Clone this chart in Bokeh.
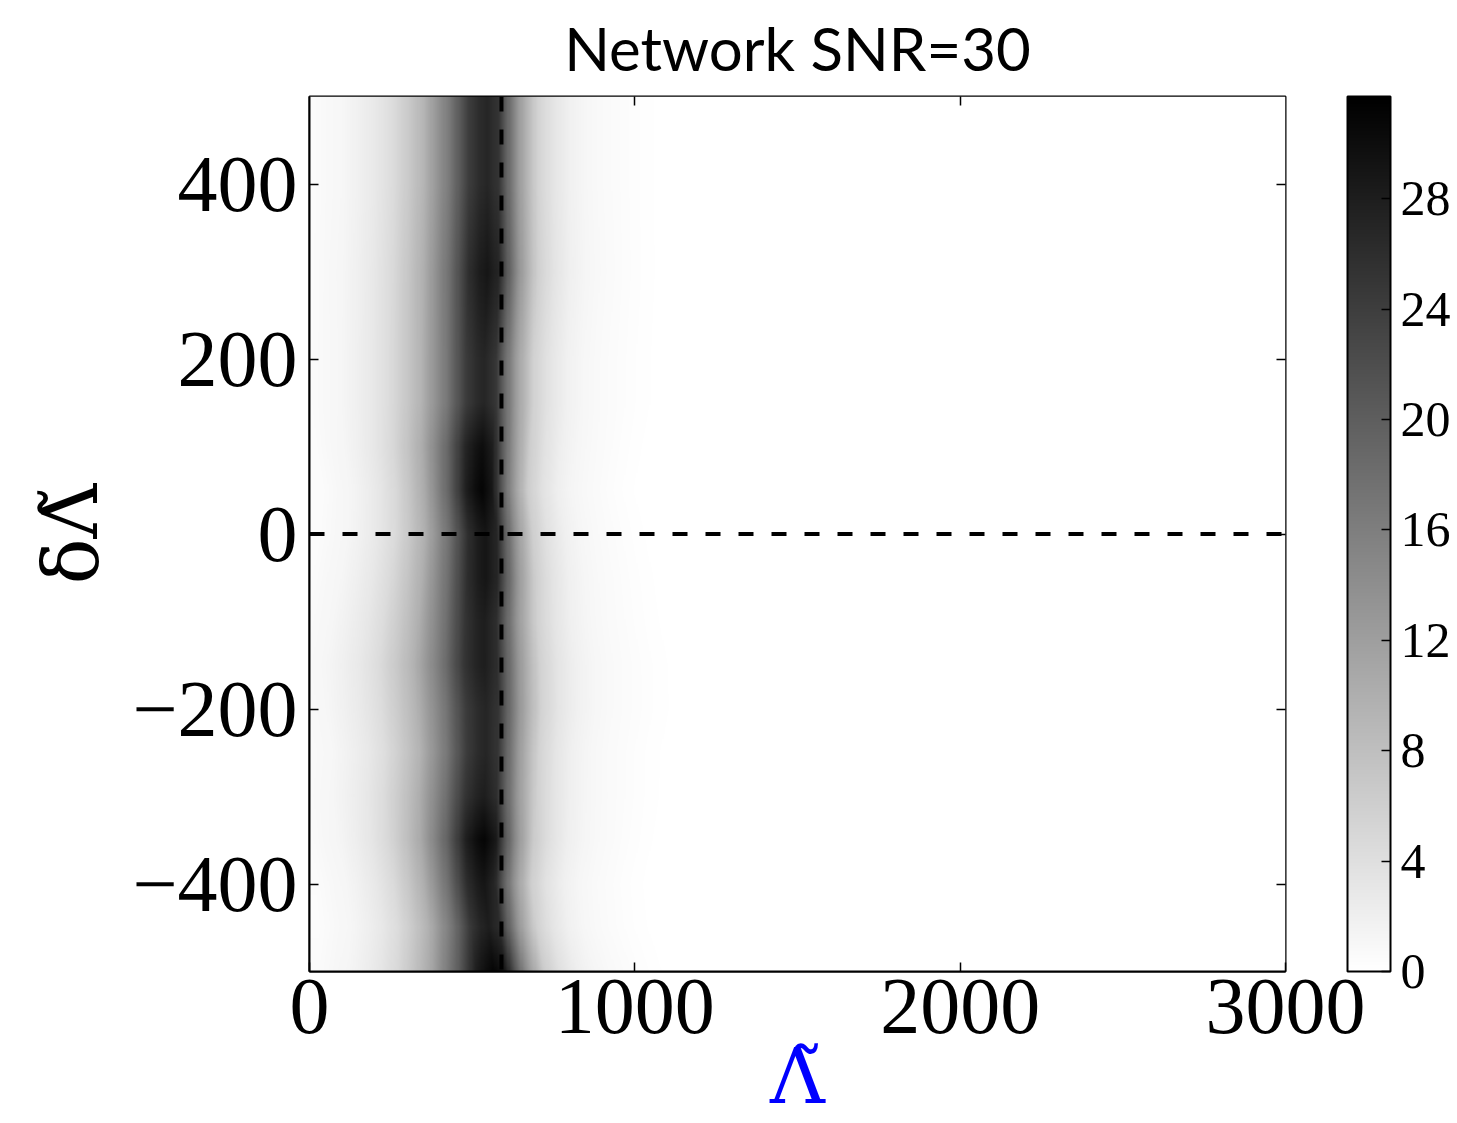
import numpy as np
from bokeh.plotting import figure
from bokeh.models import (LinearColorMapper, ColorBar, Span, LinearAxis,
                          FixedTicker, Range1d)
from bokeh.palettes import Greys256
from bokeh.embed import file_html
from bokeh.resources import INLINE

# ---------------- data ----------------
title_text = "Network SNR=30"
x_ticks = [0, 1000, 2000, 3000]
y_ticks = [-400, -200, 0, 200, 400]
cbar_ticks = [0, 4, 8, 12, 16, 20, 24, 28]
cbar_low = 0.0
cbar_high = 31.7
lambda_true = 590      # vertical dashed line
delta_true = 0         # horizontal dashed line

# density profile across Lambda-tilde (ridge centred at 540)
prof_x = [0, 60, 100, 150, 200, 250, 300, 350, 400, 430, 460, 490, 520,
          545, 580, 610, 640, 660, 700, 750, 800, 850, 900, 1000, 1100, 3000]
prof_v = [0.5, 1.0, 1.2, 2.0, 3.0, 4.5, 7.0, 10.0, 15.0, 18.0, 22.0, 26.0,
          28.0, 29.0, 27.0, 20.0, 14.0, 11.0, 6.0, 3.5, 2.0, 1.2, 0.8, 0.3,
          0.0, 0.0]
prof_ref_center = 540
prof_ref_peak = 29.0

# ridge behaviour along delta-Lambda-tilde
row_y = [-500, -450, -400, -350, -300, -250, -200, -150, -100, -50, 0,
         50, 100, 150, 200, 250, 300, 350, 400, 450, 500]
row_peak = [31, 28, 29, 31, 28, 27, 27, 28, 28, 29, 29,
            31, 30, 27, 27, 28, 29, 28, 27, 27, 27]
row_center = [560, 545, 530, 530, 530, 535, 535, 530, 530, 535, 535,
              525, 525, 530, 530, 535, 540, 540, 540, 540, 540]
row_width = [1.0, 0.95, 0.95, 1.0, 1.05, 1.05, 1.1, 1.1, 1.05, 1.0, 0.95,
             0.9, 0.95, 1.0, 1.0, 1.0, 1.0, 1.0, 1.0, 1.0, 1.0]

# ---------------- build the density image ----------------
nx, ny = 900, 500
gx = np.linspace(0, 3000, nx)
gy = np.linspace(-500, 500, ny)
peaks = np.interp(gy, row_y, row_peak)
centers = np.interp(gy, row_y, row_center)
widths = np.interp(gy, row_y, row_width)
img = np.zeros((ny, nx))
for i in range(ny):
    shifted = prof_ref_center + (gx - centers[i]) / widths[i]
    img[i] = np.interp(shifted, prof_x, prof_v) * peaks[i] / prof_ref_peak

palette = list(reversed(Greys256))
mapper = LinearColorMapper(palette=palette, low=cbar_low, high=cbar_high)

# ---------------- figure ----------------
serif = "Liberation Serif"
label_font = "DejaVu Serif"
p = figure(frame_width=976, frame_height=875,
           x_range=Range1d(0, 3000), y_range=Range1d(-500, 500),
           output_backend="svg", toolbar_location=None,
           min_border_left=309, min_border_top=0, min_border_bottom=5,
           min_border_right=172)
p.background_fill_color = "white"
p.border_fill_color = "white"
p.outline_line_color = "black"
p.outline_line_width = 2
p.grid.visible = False

p.image(image=[img], x=0, y=-500, dw=3000, dh=1000, color_mapper=mapper)

p.add_layout(Span(location=lambda_true, dimension="height", line_color="black",
                  line_width=4, line_dash="15 18"))
p.add_layout(Span(location=delta_true, dimension="width", line_color="black",
                  line_width=4, line_dash="15 18"))

# title
p.title.text = title_text
p.title.align = "center"
p.title.vertical_align = "top"
p.title.text_font = "Lato"
p.title.text_font_style = "normal"
p.title.text_font_size = "60px"
p.title.text_color = "black"
p.title.standoff = 22

# axes
for ax in (p.xaxis[0], p.yaxis[0]):
    ax.major_label_text_font = serif
    ax.major_label_text_font_size = "80px"
    ax.major_label_text_color = "black"
    ax.major_tick_in = 9
    ax.major_tick_out = 0
    ax.minor_tick_line_color = None
    ax.major_tick_line_width = 1.5
    ax.axis_line_color = "black"
    ax.axis_line_width = 2
    ax.major_label_standoff = 12
    ax.axis_label_text_font = label_font
    ax.axis_label_text_font_style = "normal"

p.xaxis.major_label_standoff = 8
p.xaxis.ticker = FixedTicker(ticks=x_ticks)
p.yaxis.ticker = FixedTicker(ticks=y_ticks)
p.yaxis.major_label_overrides = {-400: "\u2212400", -200: "\u2212200"}

p.xaxis.axis_label = "\u039B\u0303"
p.xaxis.axis_label_text_color = "#0000ff"
p.xaxis.axis_label_text_font_size = "76px"
p.xaxis.axis_label_standoff = -4

p.yaxis.axis_label = "\u03B4\u039B\u0303"
p.yaxis.axis_label_text_color = "black"
p.yaxis.axis_label_text_font_size = "76px"
p.yaxis.axis_label_standoff = 14

# top and right tick-only axes (labels not drawn)
top = LinearAxis(ticker=FixedTicker(ticks=[1000, 2000]),
                 major_label_text_font_size="1px", major_label_text_color=None,
                 major_tick_in=9, major_tick_out=0, minor_tick_line_color=None,
                 axis_line_color=None, major_tick_line_width=1.5,
                 major_label_standoff=0)
right_ax = LinearAxis(ticker=FixedTicker(ticks=y_ticks),
                      major_label_text_font_size="1px",
                      major_label_text_color=None, major_tick_in=9,
                      major_tick_out=0, minor_tick_line_color=None,
                      axis_line_color=None, major_tick_line_width=1.5,
                      major_label_standoff=0)
p.add_layout(top, "above")
p.add_layout(right_ax, "right")

cb = ColorBar(color_mapper=mapper, ticker=FixedTicker(ticks=cbar_ticks),
              width=43, height=875, padding=0, margin=0, location=(62, 0),
              major_label_text_font=serif, major_label_text_font_size="50px",
              major_label_text_color="black",
              major_tick_in=9, major_tick_out=0, major_tick_line_color="black",
              major_tick_line_width=1.5, minor_tick_line_color=None,
              bar_line_color="black", bar_line_width=2,
              background_fill_color=None, border_line_color=None,
              label_standoff=10)
p.add_layout(cb, "right")

open("out.html", "w").write(file_html(p, INLINE))
